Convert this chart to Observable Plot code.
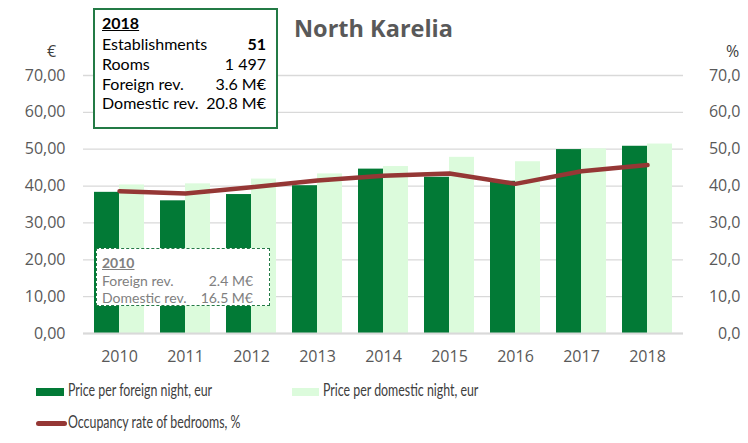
<!DOCTYPE html>
<html>
<head>
<meta charset="utf-8">
<script src="https://cdn.jsdelivr.net/npm/d3@7"></script>
<script src="https://cdn.jsdelivr.net/npm/@observablehq/plot@0.6"></script>
<style>
  body { margin: 0; background: #fff; }
  #wrap { position: relative; width: 748px; height: 443px; overflow: hidden; font-family: Lato, "Open Sans", sans-serif; }
  #wrap svg { position: absolute; left: 0; top: 0; }
  .ov { position: absolute; white-space: nowrap; }
  .box1 { left: 93px; top: 8px; width: 181px; height: 117px; border: 2px solid #237a45; background: #fff; box-sizing: content-box; }
  .box2 { left: 96px; top: 248px; width: 172px; height: 56px; border: 1.5px dashed #237a45; background: #fff; }
  .row { position: absolute; left: 7px; }
  .val { position: absolute; text-align: right; }
  .title { font-family: "Open Sans", sans-serif; font-weight: 700; font-size: 23.5px; color: #595959; }
  .leg { font-size: 16.5px; color: #404040; transform: scaleX(0.75); transform-origin: left top; }
  .sw { position: absolute; }
</style>
</head>
<body>
<div id="wrap"></div>
<script>
const years = ["2010","2011","2012","2013","2014","2015","2016","2017","2018"];
const foreignPrice = [38.3, 36.0, 37.7, 40.1, 44.6, 42.4, 41.3, 49.9, 50.8];
const domesticPrice = [40.3, 40.6, 41.9, 43.3, 45.3, 47.8, 46.6, 50.1, 51.4];
const occupancy = [38.6, 38.0, 39.7, 41.5, 42.8, 43.4, 40.6, 44.0, 45.7];
const yTicks = [0, 10, 20, 30, 40, 50, 60, 70];

const box2018Labels = ["Establishments", "Rooms", "Foreign rev.", "Domestic rev."];
const box2018Values = ["51", "1 497", "3.6 M€", "20.8 M€"];
const box2010Labels = ["Foreign rev.", "Domestic rev."];
const box2010Values = ["2.4 M€", "16.5 M€"];

const cFor = "#027a36", cDom = "#dcfbdc", cOcc = "#953735";

const W = 748, H = 443, ml = 83, mr = 65, mt = 75, mb = 110;
const bw = (W - ml - mr) / 9 * 0.75;
const rows = years.map((y, i) => ({year: y, f: foreignPrice[i], d: domesticPrice[i], o: occupancy[i]}));
const fmt2 = d => d3.format(".2f")(d).replace(".", ",");
const fmt1 = d => d3.format(".1f")(d).replace(".", ",");

const chart = Plot.plot({
  width: W, height: H,
  marginLeft: ml, marginRight: mr, marginTop: mt, marginBottom: mb,
  style: {fontFamily: "'Open Sans', sans-serif", fontSize: "16px", color: "#595959", background: "transparent"},
  x: {domain: years, paddingInner: 0.25, paddingOuter: 0.125, label: null},
  y: {domain: [0, 70], label: null},
  marks: [
    Plot.gridY(yTicks, {stroke: "#d9d9d9", strokeOpacity: 1, strokeWidth: 1.3}),
    Plot.barY(rows, {x: "year", y: "f", fill: cFor, insetRight: bw / 2}),
    Plot.barY(rows, {x: "year", y: "d", fill: cDom, insetLeft: bw / 2}),
    Plot.ruleY([0], {stroke: "#d9d9d9", strokeWidth: 2}),
    Plot.line(rows, {x: "year", y: "o", stroke: cOcc, strokeWidth: 4.5, strokeLinejoin: "round", strokeLinecap: "round"}),
    Plot.axisY(yTicks, {anchor: "left", tickSize: 0, tickPadding: 18, tickFormat: fmt2, fill: "#595959", label: null}),
    Plot.axisY(yTicks, {anchor: "right", tickSize: 0, tickPadding: 19, textAnchor: "end", dx: 38, tickFormat: fmt1, fill: "#595959", label: null}),
    Plot.axisX({tickSize: 0, tickPadding: 17, fill: "#595959", label: null})
  ]
});
const wrap = document.getElementById("wrap");
wrap.appendChild(chart);

function add(html) { wrap.insertAdjacentHTML("beforeend", html); }

add(`<div class="ov title" style="left:294px;top:12px;">North Karelia</div>`);
add(`<div class="ov" style="left:47px;top:40px;font-family:'Open Sans',sans-serif;font-size:16px;color:#404040;">€</div>`);
add(`<div class="ov" style="left:726px;top:40px;font-family:'Open Sans',sans-serif;font-size:16px;color:#404040;">%</div>`);

let b1 = `<div class="ov box1" style="font-size:16px;color:#000;">`;
b1 += `<div class="row" style="top:3px;font-weight:700;text-decoration:underline;">2018</div>`;
box2018Labels.forEach((l, i) => {
  b1 += `<div class="row" style="top:${24 + i * 19.8}px;">${l}</div>`;
  b1 += `<div class="val" style="right:10px;top:${24 + i * 19.8}px;${i === 0 ? "font-weight:700;" : ""}">${box2018Values[i]}</div>`;
});
b1 += `</div>`;
add(b1);

let b2 = `<div class="ov box2" style="font-size:14px;color:#808080;">`;
b2 += `<div class="row" style="left:5px;top:5px;font-weight:700;text-decoration:underline;">2010</div>`;
box2010Labels.forEach((l, i) => {
  b2 += `<div class="row" style="left:5px;top:${23 + i * 17}px;">${l}</div>`;
  b2 += `<div class="val" style="right:16px;top:${23 + i * 17}px;">${box2010Values[i]}</div>`;
});
b2 += `</div>`;
add(b2);

add(`<div class="sw" style="left:36px;top:388px;width:28px;height:8px;background:${cFor};"></div>`);
add(`<div class="ov leg" style="left:68px;top:380px;">Price per foreign night, eur</div>`);
add(`<div class="sw" style="left:292px;top:388px;width:27px;height:8px;background:${cDom};"></div>`);
add(`<div class="ov leg" style="left:323px;top:380px;">Price per domestic night, eur</div>`);
add(`<div class="sw" style="left:36px;top:421px;width:31px;height:5px;border-radius:3px;background:${cOcc};"></div>`);
add(`<div class="ov leg" style="left:68px;top:412px;">Occupancy rate of bedrooms, %</div>`);
</script>
</body>
</html>
